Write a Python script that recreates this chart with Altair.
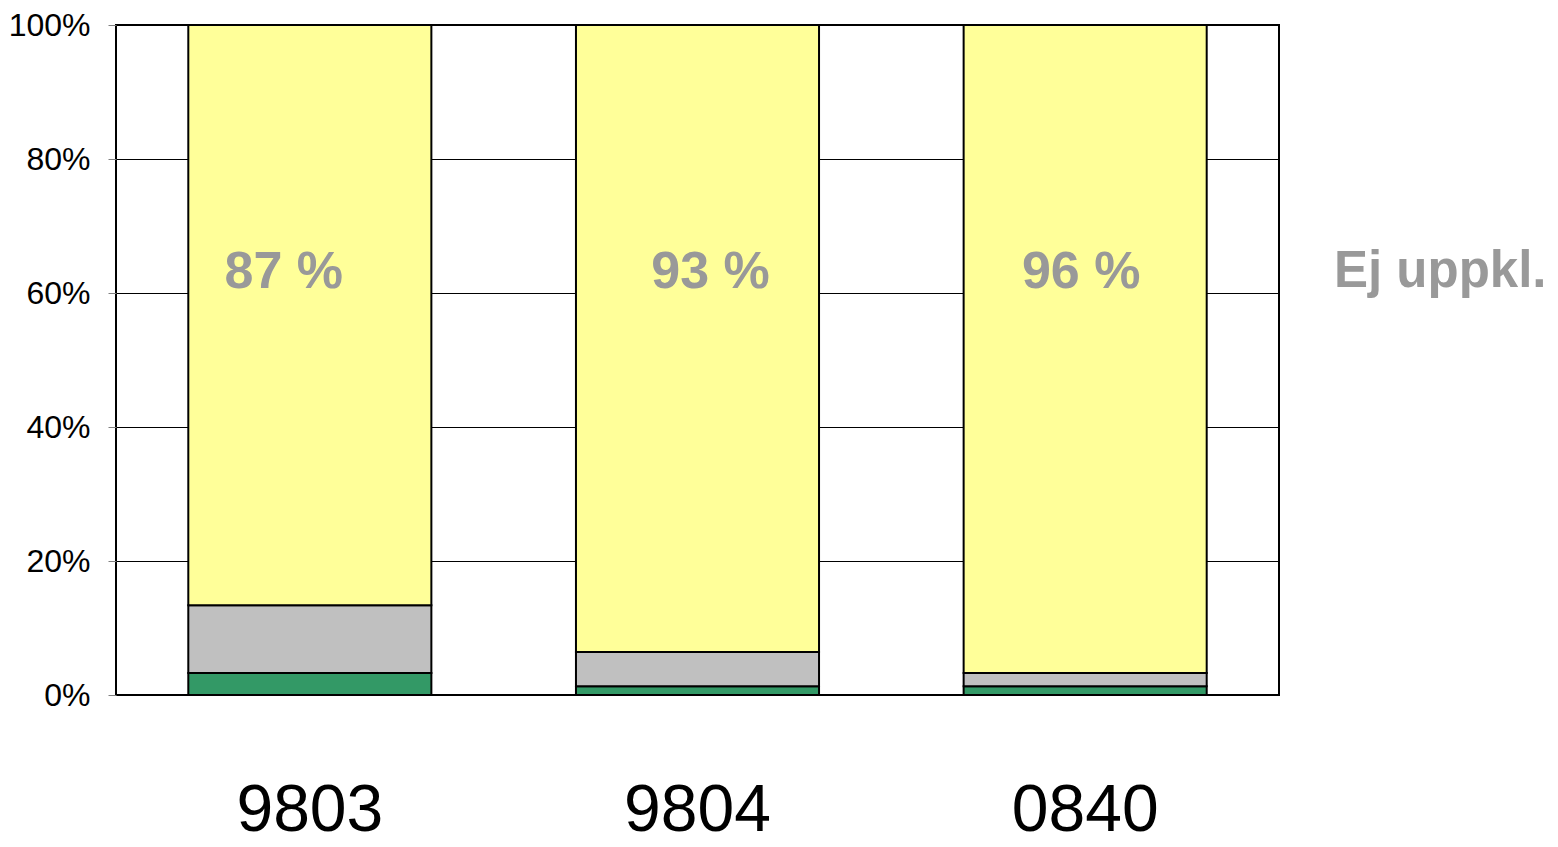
import altair as alt
import pandas as pd

categories = ["9803", "9804", "0840"]
series = ["Grön", "Grå", "Ej uppkl."]
green_vals = [3.3, 1.3, 1.3]
gray_vals = [10.1, 5.1, 2.0]
yellow_vals = [86.6, 93.6, 96.7]
pct_labels = ["87 %", "93 %", "96 %"]
label_shift = [-26, 13, -4]
y_ticks = [0, 20, 40, 60, 80, 100]
colors = ["#339966", "#C0C0C0", "#FFFF99"]

rows = []
for i, c in enumerate(categories):
    for j, (s, v) in enumerate(zip(series, [green_vals[i], gray_vals[i], yellow_vals[i]])):
        rows.append({"cat": c, "serie": s, "value": v, "ord": j})
df = pd.DataFrame(rows)

xscale = alt.Scale(domain=categories, paddingInner=0.373, paddingOuter=0.1865)
yscale = alt.Scale(domain=[0, 100], nice=False)

bars = alt.Chart(df).mark_bar(stroke="black", strokeWidth=2).encode(
    x=alt.X("cat:N", scale=xscale, sort=categories,
            axis=alt.Axis(title=None, labelAngle=0, labelFontSize=66, labelFont="Liberation Sans",
                          labelColor="black", ticks=False, domain=False, labelPadding=83, grid=False)),
    y=alt.Y("value:Q", stack="zero", scale=yscale,
            axis=alt.Axis(title=None, values=y_ticks, labelExpr="datum.value + '%'",
                          labelFontSize=32, labelFont="Liberation Sans", labelColor="black",
                          tickColor="#808080", tickSize=8, labelPadding=18, domain=False,
                          grid=True, gridColor="black", gridWidth=1, gridOpacity=1)),
    color=alt.Color("serie:N", scale=alt.Scale(domain=series, range=colors), legend=None),
    order=alt.Order("ord:Q"),
)

layers = [bars]
for c, lab, sh in zip(categories, pct_labels, label_shift):
    t = alt.Chart(pd.DataFrame({"cat": [c], "label": [lab], "ypos": [63.1]})).mark_text(
        fontSize=52, fontWeight="bold", color="#999999", font="Liberation Sans",
        baseline="middle", dx=sh).encode(
        x=alt.X("cat:N", scale=xscale, sort=categories),
        y=alt.Y("ypos:Q", scale=yscale),
        text="label:N",
    )
    layers.append(t)

side = alt.Chart(pd.DataFrame({"t": ["Ej uppkl."], "ypos": [63.1]})).mark_text(
    fontSize=51, fontWeight="bold", color="#999999", font="Liberation Sans",
    baseline="middle", align="left").encode(
    x=alt.value(1218),
    y=alt.Y("ypos:Q", scale=yscale),
    text="t:N",
)
layers.append(side)

chart = alt.layer(*layers).properties(
    width=1163, height=670,
    padding={"left": 108, "top": 17, "right": 271, "bottom": 144},
    autosize=alt.AutoSizeParams(type="none"),
    background="white",
).configure_view(stroke="black", strokeWidth=2)

chart.save("out.html", embed_options={"renderer": "svg", "actions": False})
